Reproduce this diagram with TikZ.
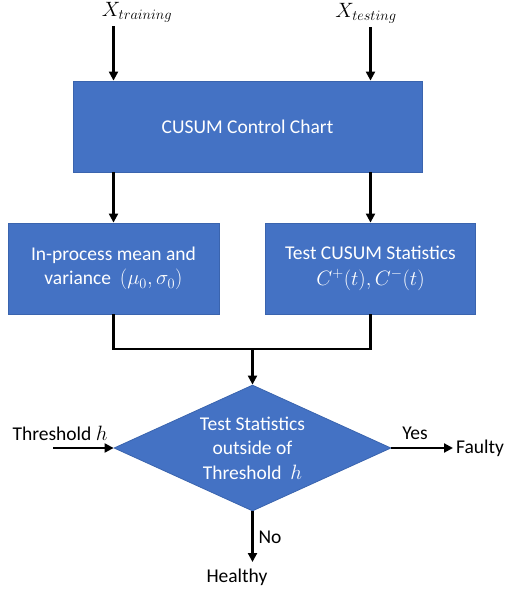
\documentclass[tikz,border=0pt]{standalone}
\usepackage{fontspec}
\setmainfont{Carlito}
\usepackage{amsmath}
\usetikzlibrary{arrows.meta,shapes.geometric}
\definecolor{boxblue}{HTML}{4472C4}
\definecolor{edgeblue}{HTML}{3A64AE}

\begin{document}
\begin{tikzpicture}[x=1pt, y=-1pt, >={Triangle[length=9pt,width=9pt]}, font=\fontsize{19.5}{24.5}\selectfont]
		\tikzset{block/.style={draw=edgeblue, line width=0.8pt, fill=boxblue, text=white, align=center, inner sep=0pt}}
		\tikzset{flow/.style={line width=2.1pt}}
		\useasboundingbox (0,0) rectangle (507,595);
		\node[anchor=south] (train) at (137,26) {$X_{training}$};
		\node[anchor=south] (test) at (366,27) {$X_{testing}$};
		\node[block, minimum width=349pt, minimum height=91pt] (chart) at (247.5,126.5) {CUSUM Control Chart};
		\node[block, minimum width=211pt, minimum height=91pt] (inproc) at (113.5,268.5) {In-process mean and\\variance~~$(\mu_0,\sigma_0)$};
		\node[block, minimum width=210pt, minimum height=91pt] (teststat) at (370.5,268.5) {Test CUSUM Statistics\\[1pt]$C^{+}(t),C^{-}(t)$};
		\node[block, diamond, aspect=2.2, minimum width=277pt, minimum height=126pt] (decide) at (252.5,448) {Test Statistics\\outside of\\Threshold~~$h$};
		\coordinate (join) at (252.5,349);
		\coordinate (thrin) at (53,448);
		\node (thr) at (60,433) {Threshold $h$};
		\node (yes) at (415,433) {Yes};
		\node[anchor=west, inner sep=3pt] (faulty) at (453,448) {Faulty};
		\node (no) at (270,537) {No};
		\node[anchor=north, inner sep=0pt] (healthy) at (237,569) {Healthy};
		\draw[flow, ->] (train.south -| inproc.north) -- (chart.north -| inproc.north);
		\draw[flow, ->] (test.south -| teststat.north) -- (chart.north -| teststat.north);
		\draw[flow, ->] (chart.south -| inproc.north) -- (inproc.north);
		\draw[flow, ->] (chart.south -| teststat.north) -- (teststat.north);
		\draw[flow] (inproc.south) |- (join) -| (teststat.south);
		\draw[flow, ->] (join) -- (decide.north);
		\draw[flow, ->] (thrin) -- (decide.west);
		\draw[flow, ->] (decide.east) -- (faulty.west);
		\draw[flow, ->] (decide.south) -- (decide.south |- 0,562);
	\end{tikzpicture}
\end{document}
